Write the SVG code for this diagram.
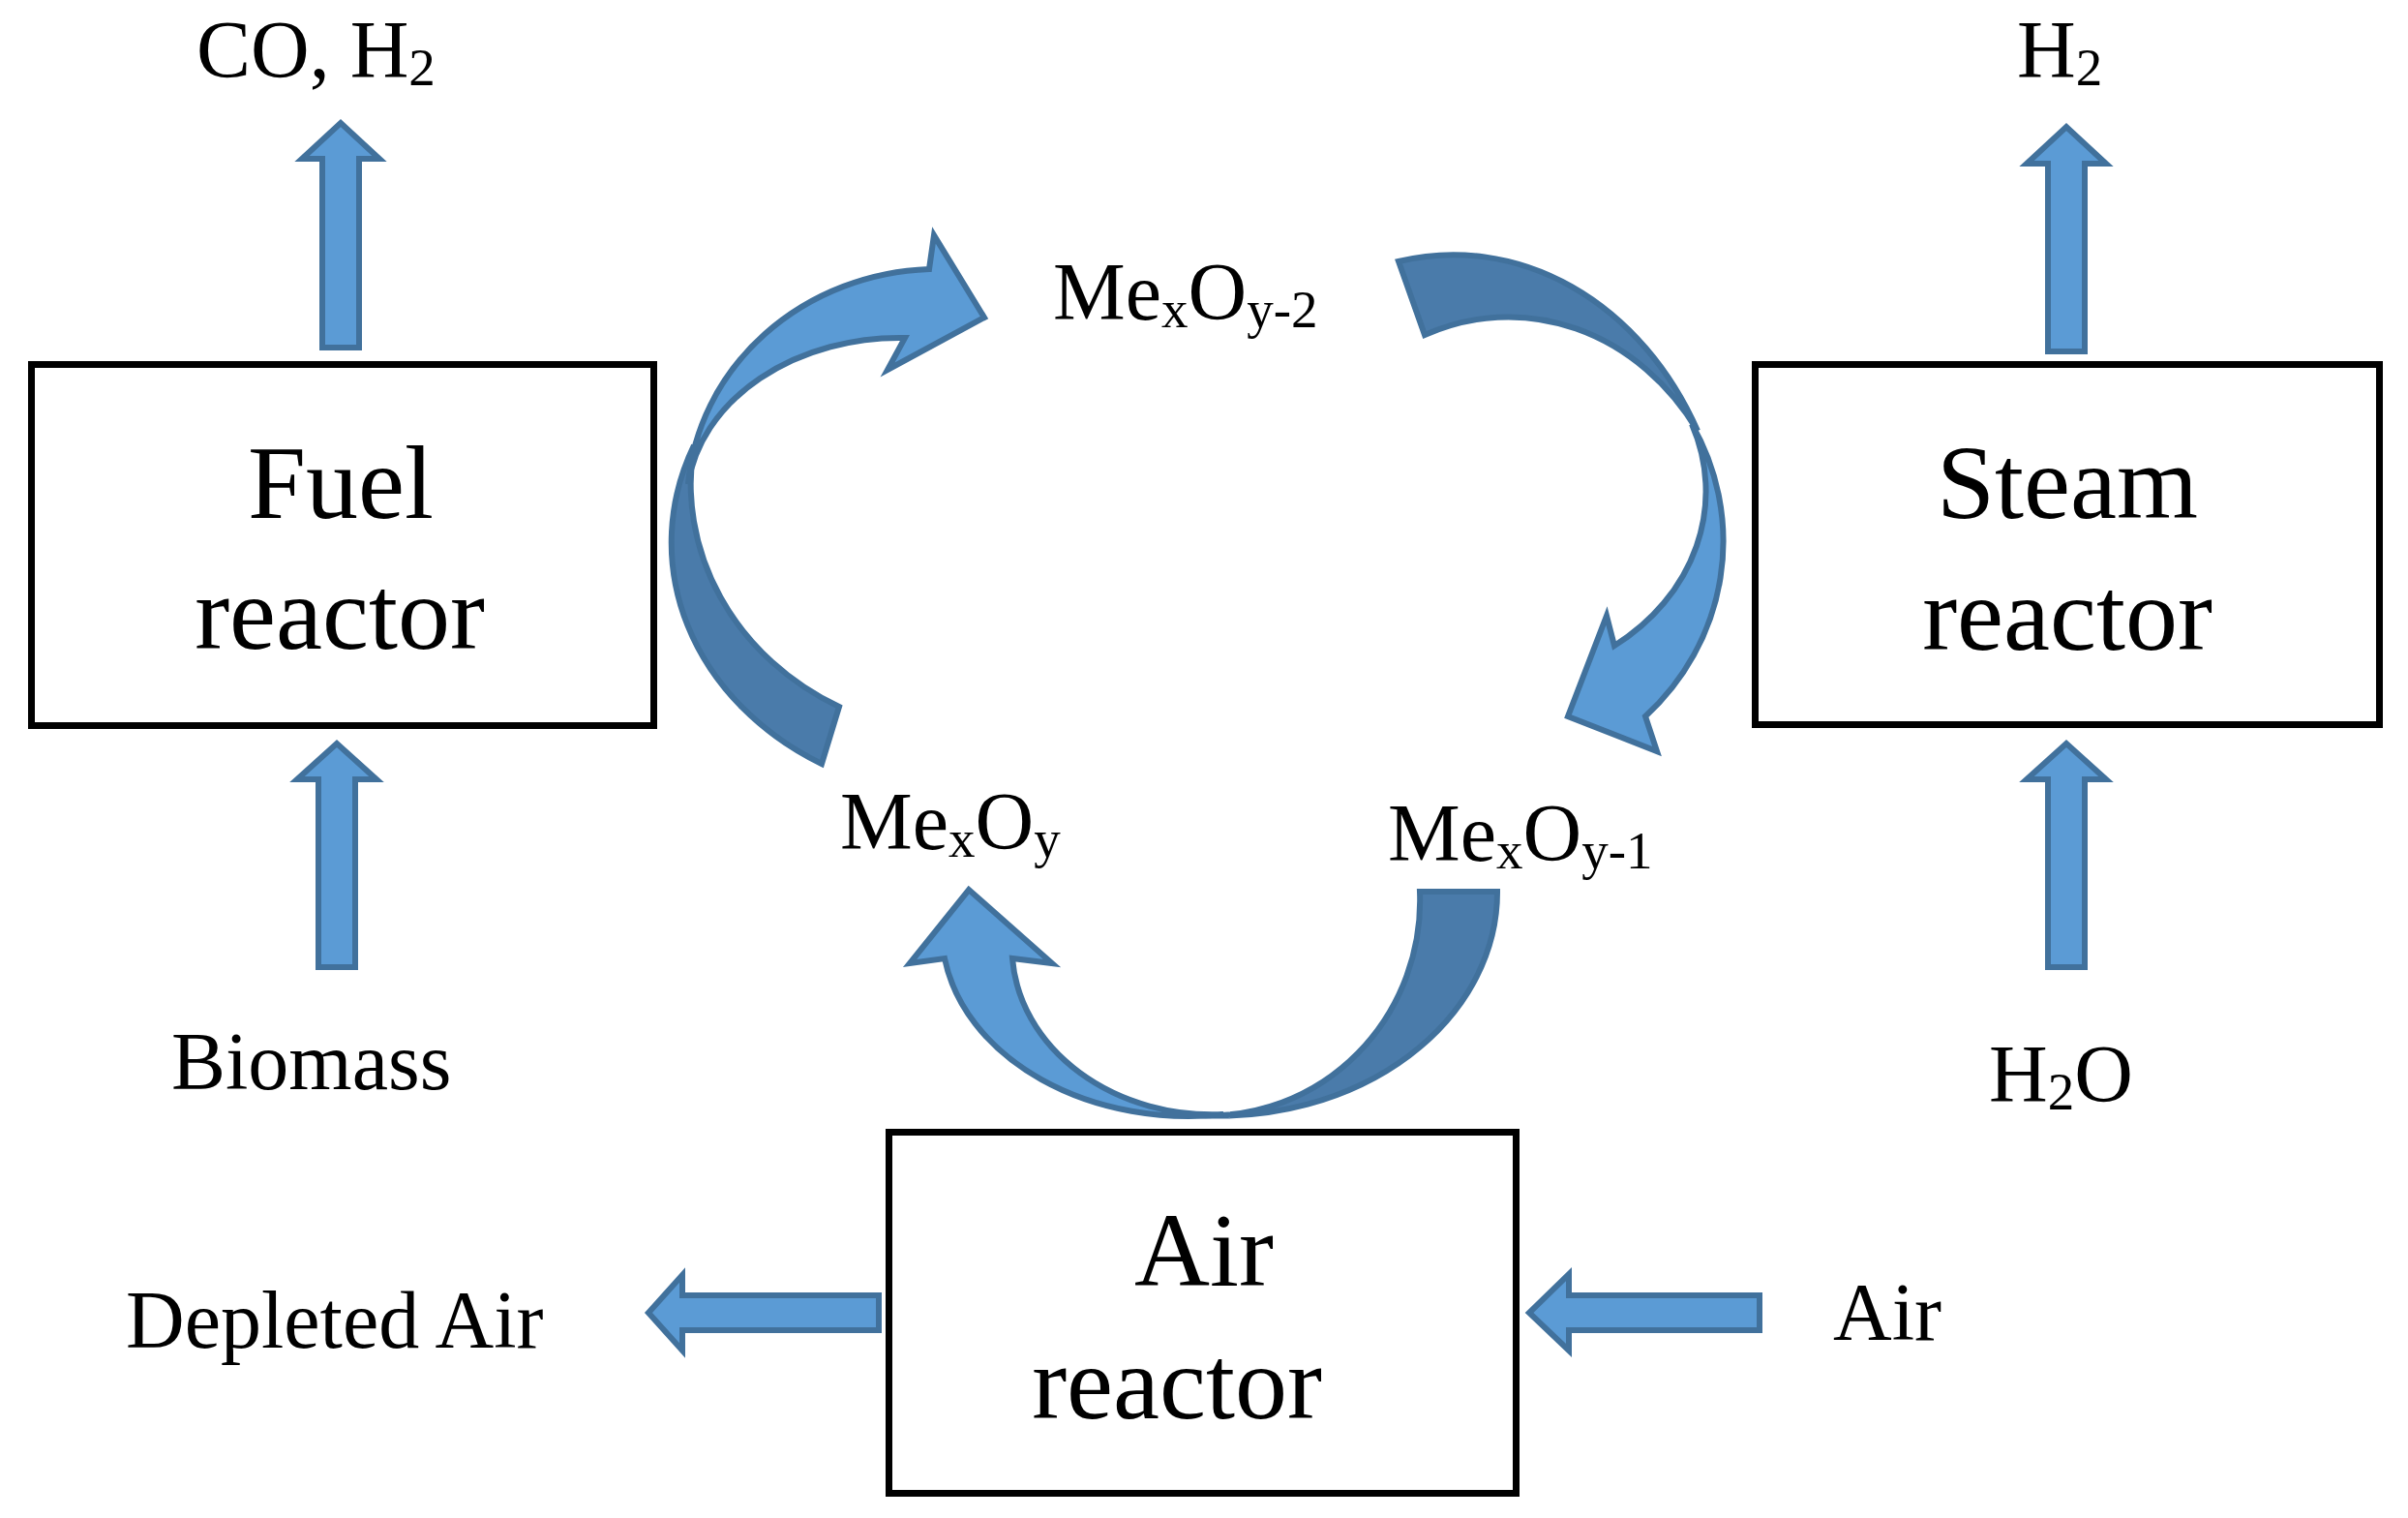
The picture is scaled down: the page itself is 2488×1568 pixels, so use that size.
<svg xmlns="http://www.w3.org/2000/svg" width="2488" height="1568" viewBox="0 0 2488 1568">
<style>
.box{fill:#fff;stroke:#000;stroke-width:7}
.ba{fill:#5B9BD5;stroke:#41719C;stroke-width:6;stroke-linejoin:miter}
.dk{fill:#4A7BAA;stroke:#41719C;stroke-width:6;stroke-linejoin:miter}
text{font-family:"Liberation Serif","Times New Roman",serif;fill:#000}
.lbl{font-size:84px}
.big{font-size:108px;text-anchor:middle}
.sub{font-size:55px}
</style>
<rect width="2488" height="1568" fill="#fff"/>
<g id="fuel-reactor">
<rect class="box" x="32.5" y="376.5" width="643" height="373"/>
<text class="big" x="352" y="535">Fuel</text>
<text class="big" x="351" y="670">reactor</text>
</g>
<g id="steam-reactor">
<rect class="box" x="1813.5" y="376.5" width="645" height="372"/>
<text class="big" x="2136" y="535">Steam</text>
<text class="big" x="2136" y="671">reactor</text>
</g>
<g id="air-reactor">
<rect class="box" x="918.5" y="1169.5" width="648" height="373"/>
<text class="big" x="1244" y="1328">Air</text>
<text class="big" x="1216" y="1465">reactor</text>
</g>
<g id="labels">
<text class="lbl" x="203" y="80">CO, H<tspan class="sub" dy="8">2</tspan></text>
<text class="lbl" x="2084" y="80">H<tspan class="sub" dy="8">2</tspan></text>
<text class="lbl" x="1088" y="330">Me<tspan class="sub" dy="8">x</tspan><tspan dy="-8">O</tspan><tspan class="sub" dy="8">y-2</tspan></text>
<text class="lbl" x="868" y="877">Me<tspan class="sub" dy="8">x</tspan><tspan dy="-8">O</tspan><tspan class="sub" dy="8">y</tspan></text>
<text class="lbl" x="1434" y="889">Me<tspan class="sub" dy="8">x</tspan><tspan dy="-8">O</tspan><tspan class="sub" dy="8">y-1</tspan></text>
<text class="lbl" x="177" y="1125">Biomass</text>
<text class="lbl" x="2055" y="1138">H<tspan class="sub" dy="8">2</tspan><tspan dy="-8">O</tspan></text>
<text class="lbl" x="130" y="1392">Depleted Air</text>
<text class="lbl" x="1894" y="1384">Air</text>
</g>
<g id="connectors">
<path class="ba" d="M333,359 L333,164 L312,164 L352,127 L392,164 L371,164 L371,359 Z"/>
<path class="ba" d="M2116,363 L2116,169 L2094,169 L2135,131 L2176,169 L2154,169 L2154,363 Z"/>
<path class="ba" d="M329,999 L329,805 L307,805 L348,768 L389,805 L367,805 L367,999 Z"/>
<path class="ba" d="M2116,999 L2116,805 L2094,805 L2135,768 L2176,805 L2154,805 L2154,999 Z"/>
<path class="ba" d="M908,1338 L705,1338 L705,1317 L670,1356 L705,1395 L705,1374 L908,1374 Z"/>
<path class="ba" d="M1818,1338 L1621,1338 L1621,1316 L1580,1356 L1621,1395 L1621,1374 L1818,1374 Z"/>
<path class="dk" d="M849,789 A307,263 0 0 1 717,460 A285,260 0 0 0 867,730 Z"/>
<path class="ba" d="M711,500 A260,242 0 0 1 960,278 L965,243 L1017,328 L917,382 L935,349 A220,171 0 0 0 711,500 Z"/>
<path class="dk" d="M1445,270 A285,340 0 0 1 1754,445 A236,267 0 0 0 1472,346 Z"/>
<path class="ba" d="M1748,438 A260,250 0 0 1 1700,740 L1712,776 L1620,740 L1660,636 L1668,667 A228,197 0 0 0 1748,438 Z"/>
<path class="dk" d="M1467,921 L1547,921 A287,231 0 0 1 1240,1152 A217,222 0 0 0 1467,921 Z"/>
<path class="ba" d="M1264,1151 A255,192 0 0 1 976,990 L940,995 L1001,919 L1087,995 L1046,990 A207,173 0 0 0 1264,1151 Z"/>
</g>
</svg>
